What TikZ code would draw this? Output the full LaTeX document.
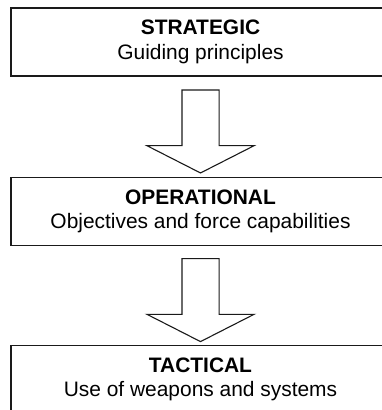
\documentclass[tikz,border=0pt]{standalone}
\usepackage{fontspec}
\setsansfont{Liberation Sans}
\usetikzlibrary{positioning,calc,shapes.arrows}
\definecolor{lvlLine}{HTML}{1A1A1A}
\definecolor{lvlText}{HTML}{000000}
\tikzset{
  tier/.style={
    draw=lvlLine, line width=0.55bp, fill=white,
    minimum width=#1, minimum height=34bp, inner sep=0pt,
    align=center, text=lvlText, font=\sffamily\fontsize{10.5}{12.4}\selectfont,
    execute at begin node={\rule{0pt}{10.5bp}}},
  tier/.default=189.5bp,
  flow/.style={
    draw=lvlLine, line width=0.55bp, shape=single arrow,
    shape border rotate=270, minimum height=41.5bp, minimum width=53bp,
    inner xsep=9bp, inner ysep=0pt,
    single arrow head extend=17.5bp, single arrow tip angle=126},
}
\begin{document}
\begin{tikzpicture}[x=0.5bp,y=0.5bp]

\clip (0,0) rectangle (382,410);

\node[tier] (strat) at (200.5,368)   {{\bfseries STRATEGIC}\\ Guiding principles};
\node[tier] (oper)  at (200.5,198.5) {{\bfseries OPERATIONAL}\\ Objectives and force capabilities};
\node[tier] (tact)  at (200.5,30.75) {{\bfseries TACTICAL}\\ Use of weapons and systems};

\node[flow] (down1) at ($(strat.south)!.5!(oper.north)$) {};
\node[flow] (down2) at ($(oper.south)!.5!(tact.north)$) {};

\end{tikzpicture}
\end{document}
